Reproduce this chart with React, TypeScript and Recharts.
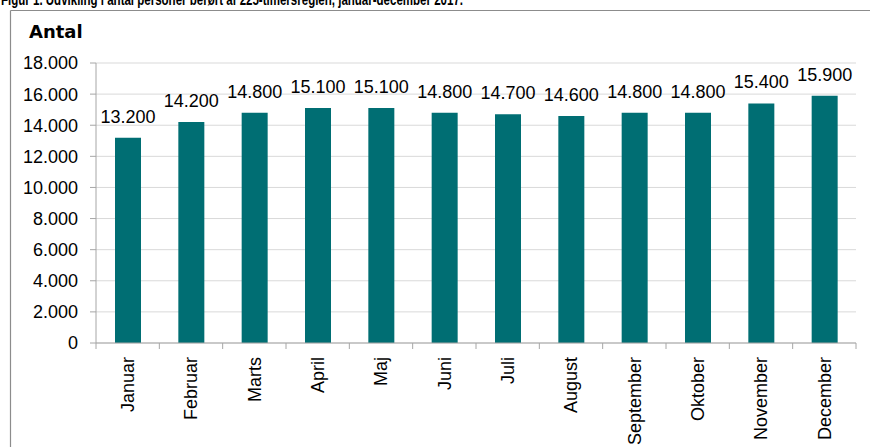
import React from 'react';
import { BarChart, Bar, XAxis, YAxis, CartesianGrid, LabelList } from 'recharts';

const months = ['Januar', 'Februar', 'Marts', 'April', 'Maj', 'Juni', 'Juli', 'August', 'September', 'Oktober', 'November', 'December'];
const antal = [13200, 14200, 14800, 15100, 15100, 14800, 14700, 14600, 14800, 14800, 15400, 15900];
const yTicks = [0, 2000, 4000, 6000, 8000, 10000, 12000, 14000, 16000, 18000];
const title = 'Figur 1. Udvikling i antal personer berørt af 225-timersreglen, januar-december 2017.';
const axisTitle = 'Antal';

const data = months.map((m, i) => ({ month: m, value: antal[i] }));

const W = 870;
const H = 447;
const ML = 96;
const MR = 14;
const MT = 63;
const XH = 104;
const STEP = (W - ML - MR) / months.length;
const FONT = '"Liberation Sans", Arial, sans-serif';
const BAR = '#006e73';
const AXIS = '#a6a6a6';
const GRID = '#d9d9d9';

const fmt = (v: number) => String(v).replace(/\B(?=(\d{3})+(?!\d))/g, '.');

const XTick = (props: any) => {
  const { x, y, payload, index } = props;
  const isLast = index === months.length - 1;
  return (
    <g>
      <line x1={x - STEP / 2} y1={y} x2={x - STEP / 2} y2={y + 6} stroke={AXIS} strokeWidth={1} />
      {isLast && <line x1={x + STEP / 2} y1={y} x2={x + STEP / 2} y2={y + 6} stroke={AXIS} strokeWidth={1} />}
      <text
        x={0}
        y={0}
        transform={`translate(${x},${y + 14}) rotate(-90)`}
        textAnchor="end"
        dy="0.35em"
        fontSize={18}
        fontFamily={FONT}
        fill="#000"
      >
        {payload.value}
      </text>
    </g>
  );
};

const ValueLabel = (props: any) => {
  const { x, y, width, value } = props;
  return (
    <text x={x + width / 2} y={y - 15} textAnchor="middle" fontSize={18} fontFamily={FONT} fill="#000">
      {fmt(value)}
    </text>
  );
};

export default function App() {
  return (
    <div style={{ position: 'absolute', left: 0, top: 0, width: W, height: H, overflow: 'hidden', background: '#fff' }}>
      <BarChart width={W} height={H} data={data} margin={{ top: MT, right: MR, left: 0, bottom: 0 }} barSize={26}>
        <CartesianGrid vertical={false} stroke={GRID} strokeWidth={1} />
        <XAxis
          dataKey="month"
          height={XH}
          interval={0}
          tickSize={0}
          tickMargin={0}
          tickLine={false}
          stroke={AXIS}
          tick={<XTick />}
        />
        <YAxis
          width={ML}
          domain={[0, 18000]}
          ticks={yTicks}
          interval={0}
          tickFormatter={fmt}
          tickSize={6}
          tickMargin={12}
          stroke={AXIS}
          tick={{ fill: '#000', fontSize: 18, fontFamily: FONT }}
        />
        <Bar dataKey="value" fill={BAR} isAnimationActive={false}>
          <LabelList dataKey="value" content={<ValueLabel />} />
        </Bar>
      </BarChart>
      <svg width={W} height={H} style={{ position: 'absolute', left: 0, top: 0, pointerEvents: 'none' }}>
        <line x1={10.5} y1={10.5} x2={W} y2={10.5} stroke="#8c8c8c" strokeWidth={1.2} />
        <line x1={10.5} y1={10.5} x2={10.5} y2={H} stroke="#8c8c8c" strokeWidth={1.2} />
        <text
          x={1}
          y={5}
          fontSize={17}
          fontWeight="bold"
          fontFamily='"Liberation Sans Narrow", "Arial Narrow", "Liberation Sans", Arial, sans-serif'
          textLength={462}
          lengthAdjust="spacingAndGlyphs"
          fill="#000"
        >
          {title}
        </text>
        <text x={29} y={38} fontSize={18} fontWeight="bold" fontFamily='"DejaVu Sans", Verdana, sans-serif' fill="#000">
          {axisTitle}
        </text>
      </svg>
    </div>
  );
}
